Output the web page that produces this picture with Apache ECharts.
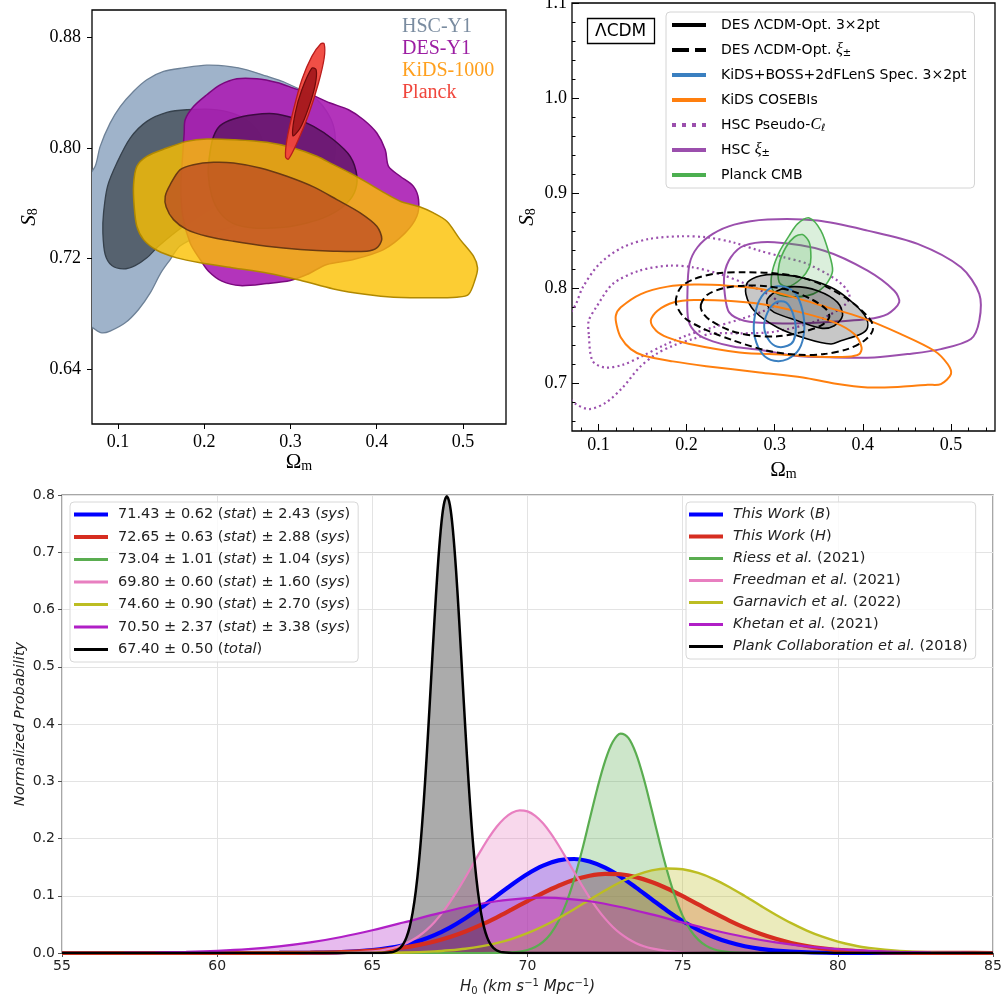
<!DOCTYPE html>
<html><head><meta charset="utf-8">
<script src="https://cdn.jsdelivr.net/npm/echarts@6/dist/echarts.min.js"></script>
<style>html,body{margin:0;padding:0;background:#fff}#c{width:1003px;height:1007px}</style>
</head><body><div id="c"></div>
<script>
// ================= DATA =================
// --- Top-left panel: (Omega_m, S8) contour outlines ---
const tlXTicks = [0.1, 0.2, 0.3, 0.4, 0.5];
const tlYTicks = [0.64, 0.72, 0.80, 0.88];
const hscY1Outer = [[0.0737,0.7867],[0.0795,0.8012],[0.091,0.818],[0.1027,0.830],[0.118,0.841],[0.1336,0.8495],[0.153,0.8555],[0.176,0.858],[0.203,0.860],[0.230,0.859],[0.2495,0.8567],[0.2727,0.852],[0.292,0.848],[0.331,0.835],[0.35,0.816],[0.35,0.79],[0.331,0.772],[0.292,0.758],[0.234,0.743],[0.195,0.736],[0.172,0.729],[0.1607,0.7192],[0.1498,0.7095],[0.1375,0.695],[0.124,0.683],[0.1085,0.6733],[0.091,0.6673],[0.0815,0.666],[0.0737,0.6685],[0.062,0.675],[0.058,0.73],[0.062,0.775]];
const hscY1Inner = [[0.180,0.8277],[0.1568,0.8258],[0.1336,0.8193],[0.1143,0.8072],[0.0988,0.7891],[0.088,0.7722],[0.0834,0.753],[0.0826,0.7385],[0.0853,0.7228],[0.093,0.7148],[0.1066,0.7124],[0.120,0.7148],[0.1336,0.7204],[0.147,0.7288],[0.176,0.7433],[0.2148,0.759],[0.2495,0.7722],[0.267,0.7867],[0.2689,0.8012],[0.2611,0.8133],[0.2418,0.823],[0.2148,0.8277]];
const desY1Outer = [[0.178,0.8205],[0.1877,0.830],[0.2032,0.8386],[0.2186,0.8458],[0.238,0.8502],[0.2611,0.8502],[0.2843,0.8475],[0.3036,0.8434],[0.323,0.839],[0.3461,0.8326],[0.3674,0.8277],[0.3848,0.8205],[0.4002,0.8109],[0.410,0.7988],[0.4138,0.7867],[0.4273,0.7795],[0.4427,0.7722],[0.4486,0.7626],[0.4466,0.7505],[0.4331,0.7385],[0.408,0.7264],[0.3732,0.7192],[0.3423,0.7156],[0.3191,0.7083],[0.300,0.704],[0.2727,0.7018],[0.2418,0.7003],[0.2206,0.7035],[0.2051,0.7107],[0.1954,0.7192],[0.1838,0.7312],[0.1753,0.7505],[0.173,0.7723],[0.1753,0.7964],[0.1769,0.8109]];
const desY1Inner = [[0.2109,0.8084],[0.2186,0.8162],[0.2341,0.821],[0.2573,0.8241],[0.2805,0.8249],[0.3036,0.8217],[0.3268,0.8157],[0.350,0.806],[0.3693,0.794],[0.3771,0.7795],[0.374,0.7674],[0.3616,0.7578],[0.3423,0.7505],[0.3191,0.7457],[0.292,0.7426],[0.2573,0.7421],[0.2341,0.7452],[0.2186,0.753],[0.209,0.765],[0.2047,0.7819],[0.207,0.7976]];
const kids1000Outer = [[0.1182,0.7735],[0.122,0.7867],[0.1336,0.794],[0.1568,0.800],[0.180,0.8048],[0.2032,0.8065],[0.2341,0.806],[0.2727,0.8041],[0.3036,0.800],[0.3307,0.794],[0.350,0.7879],[0.3693,0.7819],[0.3886,0.7751],[0.408,0.7679],[0.4273,0.7614],[0.4505,0.7573],[0.4659,0.753],[0.4814,0.7469],[0.4969,0.7336],[0.5123,0.7216],[0.517,0.7131],[0.5142,0.7047],[0.5065,0.6938],[0.493,0.6919],[0.4659,0.6914],[0.4196,0.6919],[0.3886,0.6938],[0.350,0.6979],[0.3114,0.7042],[0.2727,0.7095],[0.2341,0.7131],[0.1954,0.7168],[0.1684,0.7204],[0.1452,0.7259],[0.1298,0.7336],[0.122,0.7433],[0.1189,0.7578]];
const kids1000Inner = [[0.1549,0.765],[0.1607,0.7735],[0.1723,0.7843],[0.1877,0.7879],[0.2109,0.7896],[0.2341,0.7891],[0.265,0.7855],[0.2959,0.7795],[0.3268,0.7718],[0.3539,0.7626],[0.3809,0.753],[0.4002,0.7433],[0.406,0.7341],[0.4002,0.7276],[0.3886,0.7252],[0.350,0.7252],[0.3114,0.7264],[0.2727,0.7288],[0.2341,0.7324],[0.2032,0.7361],[0.180,0.7409],[0.1645,0.7481],[0.156,0.7573]];
const planckOuter = [[0.2944,0.7935],[0.296,0.806],[0.3036,0.8277],[0.3133,0.8495],[0.3249,0.8664],[0.3353,0.8755],[0.3392,0.8755],[0.3392,0.8652],[0.3326,0.8471],[0.321,0.8241],[0.3075,0.8036],[0.2978,0.792]];
const planckInner = [[0.3029,0.8089],[0.3056,0.8253],[0.3133,0.8422],[0.3249,0.8579],[0.3299,0.8567],[0.3288,0.8458],[0.321,0.829],[0.3114,0.8145]];
const tlLegendNames = ['HSC-Y1', 'DES-Y1', 'KiDS-1000', 'Planck'];

// --- Top-right panel ---
const trXTicks = [0.1, 0.2, 0.3, 0.4, 0.5];
const trXMinor = [0.08,0.12,0.14,0.16,0.18,0.22,0.24,0.26,0.28,0.32,0.34,0.36,0.38,0.42,0.44,0.46,0.48,0.52,0.54];
const trYTicks = [0.7, 0.8, 0.9, 1.0, 1.1];
const trYMinor = [0.66,0.68,0.72,0.74,0.76,0.78,0.82,0.84,0.86,0.88,0.92,0.94,0.96,0.98,1.02,1.04,1.06,1.08];
const des3x2Outer = [[0.2692,0.8063],[0.2843,0.8133],[0.307,0.8144],[0.3373,0.8098],[0.3676,0.7993],[0.3903,0.7835],[0.4035,0.7695],[0.4054,0.7589],[0.3978,0.7519],[0.3751,0.7449],[0.3638,0.7414],[0.3373,0.7467],[0.3032,0.7589],[0.2767,0.7765],[0.2673,0.794]];
const des3x2Inner = [[0.2919,0.7888],[0.3032,0.7975],[0.3221,0.8018],[0.3486,0.7975],[0.3713,0.7853],[0.377,0.7712],[0.3676,0.7607],[0.3524,0.7582],[0.3259,0.766],[0.2994,0.7747],[0.2919,0.7818]];
const desXiOuter = [[0.1878,0.7853],[0.1935,0.8011],[0.2086,0.8098],[0.2351,0.8158],[0.2654,0.8168],[0.2994,0.8158],[0.3297,0.8116],[0.36,0.8011],[0.3903,0.7835],[0.4092,0.766],[0.4111,0.7554],[0.4016,0.7449],[0.3827,0.7361],[0.3562,0.7309],[0.3259,0.7302],[0.2919,0.7344],[0.254,0.7449],[0.22,0.7572],[0.1973,0.7695]];
const desXiInner = [[0.2162,0.7828],[0.2237,0.7933],[0.2427,0.8004],[0.2654,0.8028],[0.2919,0.8021],[0.3184,0.7975],[0.3411,0.7888],[0.3581,0.7782],[0.3619,0.7695],[0.3524,0.7607],[0.3297,0.7537],[0.3032,0.7495],[0.2767,0.7502],[0.2502,0.7554],[0.2275,0.766],[0.2181,0.7747]];
const kidsBossOuter = [[0.2767,0.766],[0.2824,0.787],[0.2956,0.8004],[0.3108,0.8018],[0.324,0.794],[0.3316,0.7765],[0.3335,0.7554],[0.3278,0.7361],[0.3146,0.7256],[0.2994,0.7239],[0.2862,0.7309],[0.2775,0.7484]];
const kidsBossInner = [[0.2881,0.7589],[0.2919,0.7747],[0.3013,0.7853],[0.3127,0.7853],[0.3202,0.7747],[0.324,0.7589],[0.3214,0.7449],[0.3146,0.7396],[0.3032,0.7386],[0.2938,0.7449]];
const cosebisOuter = [[0.1197,0.7712],[0.1254,0.78],[0.1481,0.794],[0.1783,0.8018],[0.2086,0.8039],[0.2465,0.8028],[0.2843,0.7993],[0.3221,0.7905],[0.36,0.78],[0.3978,0.7695],[0.4432,0.7519],[0.4811,0.7344],[0.4962,0.7204],[0.5,0.7098],[0.4886,0.6993],[0.4735,0.6986],[0.4432,0.6965],[0.4054,0.6958],[0.3676,0.7],[0.332,0.7063],[0.2828,0.7116],[0.2222,0.7182],[0.1844,0.7232],[0.1518,0.7291],[0.1367,0.7361],[0.1254,0.7484],[0.1208,0.7607]];
const cosebisInner = [[0.1594,0.766],[0.167,0.7765],[0.1859,0.7853],[0.2086,0.7877],[0.2465,0.787],[0.2843,0.7835],[0.3297,0.7747],[0.3676,0.7642],[0.3903,0.7519],[0.3986,0.7379],[0.3959,0.7309],[0.3827,0.7281],[0.3486,0.7281],[0.3108,0.7302],[0.2601,0.7326],[0.2033,0.7414],[0.1783,0.7484],[0.1655,0.7554]];
const hscClOuter = [[0.062,0.70],[0.064,0.765],[0.0746,0.7836],[0.0822,0.801],[0.1011,0.8257],[0.1276,0.8432],[0.1579,0.852],[0.1919,0.8547],[0.2222,0.8537],[0.2525,0.8484],[0.2828,0.8396],[0.3108,0.8326],[0.3373,0.8256],[0.3713,0.8081],[0.3846,0.794],[0.3808,0.7835],[0.3486,0.766],[0.2994,0.7544],[0.2616,0.7526],[0.2298,0.7526],[0.2071,0.7467],[0.1844,0.7396],[0.1655,0.7309],[0.1465,0.7168],[0.1276,0.6958],[0.1087,0.68],[0.0898,0.673],[0.0746,0.6783],[0.066,0.687]];
const hscClInner = [[0.089,0.7519],[0.089,0.766],[0.0974,0.78],[0.1163,0.8046],[0.1465,0.8186],[0.1806,0.8239],[0.2071,0.8221],[0.2374,0.8151],[0.2676,0.8046],[0.2919,0.794],[0.3032,0.7853],[0.2881,0.7765],[0.2616,0.7677],[0.2298,0.7589],[0.1995,0.7502],[0.173,0.7396],[0.1503,0.7291],[0.1276,0.7196],[0.1068,0.7168],[0.0932,0.7239]];
const hscXiOuter = [[0.2033,0.8256],[0.2124,0.8432],[0.2298,0.8572],[0.254,0.867],[0.2919,0.8723],[0.3486,0.8712],[0.4054,0.8607],[0.4622,0.8467],[0.5114,0.8221],[0.5322,0.794],[0.5322,0.766],[0.5227,0.7467],[0.4886,0.7361],[0.4508,0.7309],[0.413,0.7274],[0.3676,0.7274],[0.3221,0.7291],[0.2828,0.7354],[0.254,0.7386],[0.2298,0.7442],[0.2124,0.7519],[0.2022,0.766],[0.201,0.7953]];
const hscXiInner = [[0.2430,0.8151],[0.2502,0.8326],[0.2654,0.8449],[0.2994,0.8484],[0.3562,0.8396],[0.4054,0.8186],[0.4357,0.7975],[0.4413,0.7853],[0.4281,0.773],[0.4054,0.7677],[0.3524,0.7642],[0.2994,0.7632],[0.2654,0.766],[0.2484,0.7747],[0.2434,0.794]];
const planckCmbOuter = [[0.2964,0.801],[0.2975,0.8186],[0.3051,0.8379],[0.3165,0.8554],[0.3259,0.8677],[0.3392,0.874],[0.3524,0.8607],[0.3619,0.8361],[0.3657,0.8186],[0.36,0.8063],[0.3505,0.7975],[0.3373,0.7923],[0.3184,0.7912],[0.3032,0.794]];
const planckCmbInner = [[0.3051,0.8063],[0.3051,0.8256],[0.3127,0.8432],[0.3221,0.8537],[0.3316,0.8565],[0.3392,0.8484],[0.3411,0.8326],[0.3392,0.8221],[0.3297,0.8098],[0.3146,0.8018]];
const trLegendNames = ['DES ΛCDM-Opt. 3×2pt', 'DES ΛCDM-Opt. ξ±', 'KiDS+BOSS+2dFLenS Spec. 3×2pt', 'KiDS COSEBIs', 'HSC Pseudo-Cℓ', 'HSC ξ±', 'Planck CMB'];

// --- Bottom panel: H0 probability curves [H0, probability] ---
const h0BlueB = [[55,0],[62,0.0001],[63,0.0004],[64,0.0015],[65,0.0050],[65.5,0.0084],[66,0.0135],[66.5,0.0210],[67,0.0312],[67.5,0.0444],[68,0.0607],[68.5,0.0794],[69,0.0996],[69.5,0.1198],[70,0.1381],[70.5,0.1526],[71,0.1617],[71.5,0.1642],[72,0.1598],[72.5,0.1490],[73,0.1333],[73.5,0.1142],[74,0.0939],[74.5,0.0739],[75,0.0558],[75.5,0.0404],[76,0.0280],[76.5,0.0186],[77,0.0119],[77.5,0.0073],[78,0.0042],[79,0.0013],[80,0.0003],[81,0.0001],[85,0]];
const h0RedH = [[55,0],[62,0.0001],[63,0.0005],[64,0.0015],[65,0.0041],[65.5,0.0064],[66,0.0096],[66.5,0.0142],[67,0.0202],[67.5,0.0280],[68,0.0376],[68.5,0.0490],[69,0.0620],[69.5,0.0762],[70,0.0907],[70.5,0.1048],[71,0.1175],[71.5,0.1279],[72,0.1350],[72.5,0.1383],[73,0.1375],[73.5,0.1326],[74,0.1241],[74.5,0.1127],[75,0.0993],[75.5,0.0849],[76,0.0704],[76.5,0.0567],[77,0.0443],[77.5,0.0335],[78,0.0247],[78.5,0.0176],[79,0.0122],[79.5,0.0082],[80,0.0053],[81,0.0021],[82,0.0007],[83,0.0002],[84,0.0001],[85,0]];
const h0Riess = [[55,0],[68.5,0],[69,0.0002],[69.5,0.0012],[69.75,0.0026],[70,0.0053],[70.25,0.0105],[70.5,0.0194],[70.75,0.0340],[71,0.0560],[71.25,0.0872],[71.5,0.1281],[71.75,0.1777],[72,0.2327],[72.25,0.2875],[72.5,0.3352],[72.75,0.3690],[73,0.3833],[73.25,0.3759],[73.5,0.3479],[73.75,0.3039],[74,0.2505],[74.25,0.1950],[74.5,0.1432],[74.75,0.0993],[75,0.0649],[75.25,0.0401],[75.5,0.0234],[75.75,0.0129],[76,0.0067],[76.25,0.0033],[76.5,0.0015],[77,0.0003],[77.5,0],[85,0]];
const h0Freedman = [[55,0],[63.5,0],[64,0.0003],[64.5,0.0010],[65,0.0028],[65.25,0.0044],[65.5,0.0067],[65.75,0.0101],[66,0.0149],[66.25,0.0213],[66.5,0.0297],[66.75,0.0405],[67,0.0539],[67.25,0.0700],[67.5,0.0887],[67.75,0.1097],[68,0.1324],[68.25,0.1559],[68.5,0.1792],[68.75,0.2010],[69,0.2200],[69.25,0.2350],[69.5,0.2450],[69.75,0.2492],[70,0.2474],[70.25,0.2396],[70.5,0.2266],[70.75,0.2090],[71,0.1882],[71.25,0.1653],[71.5,0.1418],[71.75,0.1186],[72,0.0969],[72.25,0.0772],[72.5,0.0600],[72.75,0.0455],[73,0.0337],[73.25,0.0244],[73.5,0.0172],[73.75,0.0118],[74,0.0080],[74.5,0.0033],[75,0.0013],[75.5,0.0004],[76,0],[85,0]];
const h0Garnavich = [[55,0],[63,0],[64,0.0001],[65,0.0003],[66,0.0009],[67,0.0028],[67.5,0.0047],[68,0.0074],[68.5,0.0115],[69,0.0172],[69.5,0.0248],[70,0.0346],[70.5,0.0467],[71,0.0608],[71.5,0.0765],[72,0.0930],[72.5,0.1092],[73,0.1240],[73.5,0.1360],[74,0.1442],[74.5,0.1477],[75,0.1462],[75.5,0.1398],[76,0.1292],[76.5,0.1154],[77,0.0996],[77.5,0.0830],[78,0.0669],[78.5,0.0521],[79,0.0392],[79.5,0.0285],[80,0.0200],[80.5,0.0136],[81,0.0089],[82,0.0035],[83,0.0012],[84,0.0003],[85,0.0001]];
const h0Khetan = [[55,0.0001],[56,0.0002],[57,0.0005],[58,0.0010],[59,0.0020],[60,0.0038],[61,0.0068],[62,0.0116],[63,0.0185],[64,0.0280],[65,0.0398],[66,0.0533],[67,0.0674],[68,0.0804],[69,0.0904],[70,0.0959],[70.5,0.0966],[71,0.0959],[72,0.0904],[73,0.0804],[74,0.0674],[75,0.0533],[76,0.0398],[77,0.0280],[78,0.0185],[79,0.0116],[80,0.0068],[81,0.0038],[82,0.0020],[83,0.0010],[84,0.0005],[85,0.0002]];
const h0Planck = [[55,0],[65.2,0],[65.4,0.0003],[65.6,0.0012],[65.7,0.0025],[65.8,0.0048],[65.9,0.0089],[66,0.0158],[66.1,0.0272],[66.2,0.0448],[66.3,0.0709],[66.4,0.1080],[66.5,0.1579],[66.6,0.2218],[66.7,0.2995],[66.8,0.3884],[66.9,0.4839],[67,0.5794],[67.1,0.6665],[67.2,0.7365],[67.3,0.7821],[67.4,0.7979],[67.5,0.7821],[67.6,0.7365],[67.7,0.6665],[67.8,0.5794],[67.9,0.4839],[68,0.3884],[68.1,0.2995],[68.2,0.2218],[68.3,0.1579],[68.4,0.1080],[68.5,0.0709],[68.6,0.0448],[68.7,0.0272],[68.8,0.0158],[68.9,0.0089],[69,0.0048],[69.1,0.0025],[69.2,0.0012],[69.4,0.0003],[69.6,0],[85,0]];
const refNames = ['This Work (B)', 'This Work (H)', 'Riess et al. (2021)', 'Freedman et al. (2021)', 'Garnavich et al. (2022)', 'Khetan et al. (2021)', 'Plank Collaboration et al. (2018)'];
const valueNames = ['71.43 ± 0.62 (stat) ± 2.43 (sys)', '72.65 ± 0.63 (stat) ± 2.88 (sys)', '73.04 ± 1.01 (stat) ± 1.04 (sys)', '69.80 ± 0.60 (stat) ± 1.60 (sys)', '74.60 ± 0.90 (stat) ± 2.70 (sys)', '70.50 ± 2.37 (stat) ± 3.38 (sys)', '67.40 ± 0.50 (total)'];

// ================= STYLE / BUILD =================
const SERIF = "'Liberation Serif','DejaVu Serif',serif";
const SANS = "'DejaVu Sans',sans-serif";

function contour(name, pts, ax, fill, stroke, lw, dash) {
  return {
    type: 'custom', name: name, coordinateSystem: 'cartesian2d',
    xAxisIndex: ax, yAxisIndex: ax, clip: true, silent: true,
    data: [pts[0]],
    renderItem: function (params, api) {
      const points = pts.map(function (p) { return api.coord(p); });
      return { type: 'polygon', shape: { points: points, smooth: 0.3 },
        style: { fill: fill || 'none', stroke: stroke, lineWidth: lw, lineDash: dash || null } };
    }
  };
}

const series = [];
// top-left
series.push(contour('HSC-Y1', hscY1Outer, 0, '#9fb3ca', '#6d8197', 1.3));
series.push(contour('HSC-Y1', hscY1Inner, 0, '#56626f', '#36414c', 1.3));
series.push(contour('DES-Y1', desY1Outer, 0, 'rgba(171,30,180,0.9)', '#7a087e', 1.5));
series.push(contour('DES-Y1', desY1Inner, 0, 'rgba(100,24,106,0.85)', '#3c0a40', 1.5));
series.push(contour('KiDS-1000', kids1000Outer, 0, 'rgba(251,192,0,0.8)', '#b08800', 1.5));
series.push(contour('KiDS-1000', kids1000Inner, 0, 'rgba(185,70,35,0.7)', '#6b3a12', 1.5));
series.push(contour('Planck', planckOuter, 0, 'rgba(240,70,60,0.95)', '#b81c1c', 1.3));
series.push(contour('Planck', planckInner, 0, 'rgba(165,25,30,0.95)', '#6e0a0a', 1.2));
// top-right
const PURPLE = '#9b4fad', ORANGE = '#ff7f0e', BLUE = '#3a7fc0', GREEN = '#4caf50';
series.push(contour('c1', hscClOuter, 1, null, PURPLE, 2.2, [2, 3.2]));
series.push(contour('c2', hscClInner, 1, null, PURPLE, 2.2, [2, 3.2]));
series.push(contour('c3', hscXiOuter, 1, null, PURPLE, 2));
series.push(contour('c4', hscXiInner, 1, null, PURPLE, 2));
series.push(contour('c5', planckCmbOuter, 1, 'rgba(76,175,80,0.2)', GREEN, 1.6));
series.push(contour('c6', planckCmbInner, 1, 'rgba(76,175,80,0.2)', GREEN, 1.6));
series.push(contour('c7', des3x2Outer, 1, 'rgba(0,0,0,0.22)', '#000', 1.6));
series.push(contour('c8', des3x2Inner, 1, 'rgba(0,0,0,0.2)', '#000', 1.6));
series.push(contour('c9', cosebisOuter, 1, null, ORANGE, 2));
series.push(contour('c10', cosebisInner, 1, null, ORANGE, 2));
series.push(contour('c11', kidsBossOuter, 1, null, BLUE, 2));
series.push(contour('c12', kidsBossInner, 1, null, BLUE, 2));
series.push(contour('c13', desXiOuter, 1, null, '#000', 2, [7, 4]));
series.push(contour('c14', desXiInner, 1, null, '#000', 2, [7, 4]));
// top-right legend proxies
const trColors = ['#000', '#000', BLUE, ORANGE, PURPLE, PURPLE, GREEN];
trLegendNames.forEach(function (n, i) {
  series.push({ type: 'line', name: n, xAxisIndex: 1, yAxisIndex: 1, data: [], symbol: 'none',
    color: trColors[i], itemStyle: { color: trColors[i] }, lineStyle: { color: trColors[i], width: 4 } });
});
const trIcons = ['path://M0,0H34V4H0Z', 'path://M0,0H17V4H0ZM23,0H34V4H23Z', 'path://M0,0H34V4H0Z', 'path://M0,0H34V4H0Z',
  'path://M0,0H4V4H0ZM10,0H14V4H10ZM20,0H24V4H20ZM30,0H34V4H30Z', 'path://M0,0H34V4H0Z', 'path://M0,0H34V4H0Z'];

// bottom
const h0Data = [h0BlueB, h0RedH, h0Riess, h0Freedman, h0Garnavich, h0Khetan, h0Planck];
const h0Colors = ['#0000ff', '#d62d20', '#5aad50', '#e87fc0', '#bcbd22', '#b01fc6', '#000000'];
const h0Widths = [4.2, 4.2, 2.2, 2.2, 2.4, 2.2, 2.5];
const h0FillOp = [0.28, 0.28, 0.3, 0.3, 0.3, 0.3, 0.33];
h0Data.forEach(function (d, i) {
  series.push({ type: 'line', name: refNames[i], xAxisIndex: 3, yAxisIndex: 3, data: d, smooth: 0.35,
    symbol: 'none', silent: true, color: h0Colors[i], itemStyle: { color: h0Colors[i] },
    lineStyle: { color: h0Colors[i], width: h0Widths[i] },
    areaStyle: { color: h0Colors[i], opacity: h0FillOp[i] } });
});
valueNames.forEach(function (n, i) {
  series.push({ type: 'line', name: n, xAxisIndex: 3, yAxisIndex: 3, data: [], symbol: 'none',
    color: h0Colors[i], itemStyle: { color: h0Colors[i] }, lineStyle: { color: h0Colors[i], width: h0Widths[i] } });
});
const THICK = 'path://M0,0H0.01V0.01H0ZM0,4.9H34V9.1H0ZM33.99,13.99H34V14H33.99Z';
const THIN = 'path://M0,0H0.01V0.01H0ZM0,5.6H34V8.4H0ZM33.99,13.99H34V14H33.99Z';
const h0Icons = [THICK, THICK, THIN, THIN, THIN, THIN, THIN];

const subRich = {
  a: { fontFamily: SERIF, fontSize: 21, lineHeight: 22, color: '#000' },
  ai: { fontFamily: SERIF, fontSize: 21, fontStyle: 'italic', lineHeight: 22, color: '#000' },
  b: { fontFamily: SERIF, fontSize: 14, lineHeight: 10, verticalAlign: 'bottom', color: '#000' }
};

function commonAxis(extra) {
  return Object.assign({ type: 'value', axisLine: { show: false, onZero: false }, splitLine: { show: false }, nameMoveOverlap: false }, extra);
}

const option = {
  animation: false,
  backgroundColor: '#ffffff',
  title: { text: 'ΛCDM', left: 587, top: 18, padding: [5, 8, 4, 8], borderColor: '#000', borderWidth: 1.3,
    textStyle: { fontFamily: SANS, fontSize: 17, fontWeight: 'normal', color: '#000' } },
  grid: [
    { left: 92, top: 10, width: 414, height: 414, show: true, borderColor: '#000', borderWidth: 1.3, backgroundColor: 'transparent', outerBoundsMode: 'none' },
    { left: 572, top: 3, width: 423, height: 428, show: true, borderColor: '#000', borderWidth: 1.3, backgroundColor: 'transparent', outerBoundsMode: 'none' },
    { left: 62, top: 495, width: 931, height: 458, show: true, borderColor: '#8a8a8a', borderWidth: 1.5, backgroundColor: 'transparent', outerBoundsMode: 'none' }
  ],
  xAxis: [
    commonAxis({ gridIndex: 0, min: 0.07, max: 0.55,
      axisTick: { customValues: tlXTicks, length: 5, lineStyle: { color: '#000' } },
      axisLabel: { customValues: tlXTicks, formatter: function (v) { return v.toFixed(1); }, fontFamily: SERIF, fontSize: 18, color: '#000', margin: 9 },
      name: '{a|Ω}{b|m}', nameLocation: 'middle', nameGap: 27, nameTextStyle: { rich: subRich } }),
    commonAxis({ gridIndex: 1, min: 0.07, max: 0.55,
      axisTick: { customValues: trXTicks, inside: true, length: 7, lineStyle: { color: '#000' } },
      axisLabel: { customValues: trXTicks, formatter: function (v) { return v.toFixed(1); }, fontFamily: SERIF, fontSize: 18, color: '#000', margin: 5 },
      name: '{a|Ω}{b|m}', nameLocation: 'middle', nameGap: 28, nameTextStyle: { rich: subRich } }),
    commonAxis({ gridIndex: 1, min: 0.07, max: 0.55, position: 'top', offset: -428,
      axisTick: { customValues: trXMinor, inside: false, length: 3.5, lineStyle: { color: '#000' } },
      axisLabel: { show: false } }),
    commonAxis({ gridIndex: 2, min: 55, max: 85, interval: 5,
      splitLine: { show: true, lineStyle: { color: '#e3e3e3', width: 1 } },
      axisTick: { length: 4, lineStyle: { color: '#555' } },
      axisLabel: { fontFamily: SANS, fontSize: 14, color: '#222', margin: 6 },
      name: '{i|H}{sb|0}{i| (km s}{sp|−1}{i| Mpc}{sp|−1}{i|)}', nameLocation: 'middle', nameGap: 25,
      nameTextStyle: { rich: {
        i: { fontFamily: SANS, fontStyle: 'italic', fontSize: 15, lineHeight: 18, color: '#222' },
        sb: { fontFamily: SANS, fontSize: 10, lineHeight: 9, verticalAlign: 'bottom', color: '#222' },
        sp: { fontFamily: SANS, fontSize: 10, lineHeight: 9, verticalAlign: 'top', color: '#222' } } } })
  ],
  yAxis: [
    commonAxis({ gridIndex: 0, min: 0.60, max: 0.90,
      axisTick: { customValues: tlYTicks, length: 5, lineStyle: { color: '#000' } },
      axisLabel: { customValues: tlYTicks, formatter: function (v) { return v.toFixed(2); }, fontFamily: SERIF, fontSize: 18, color: '#000', margin: 11 },
      name: '{ai|S}{b|8}', nameLocation: 'middle', nameGap: 52, nameTextStyle: { rich: subRich } }),
    commonAxis({ gridIndex: 1, min: 0.65, max: 1.1,
      axisTick: { customValues: trYTicks, inside: true, length: 7, lineStyle: { color: '#000' } },
      axisLabel: { customValues: trYTicks, formatter: function (v) { return v.toFixed(1); }, fontFamily: SERIF, fontSize: 18, color: '#000', margin: 5 },
      name: '{ai|S}{b|8}', nameLocation: 'middle', nameGap: 34, nameTextStyle: { rich: subRich } }),
    commonAxis({ gridIndex: 1, min: 0.65, max: 1.1, position: 'right', offset: -423,
      axisTick: { customValues: trYMinor, inside: false, length: 3.5, lineStyle: { color: '#000' } },
      axisLabel: { show: false } }),
    commonAxis({ gridIndex: 2, min: 0, max: 0.8, interval: 0.1,
      splitLine: { show: true, lineStyle: { color: '#e3e3e3', width: 1 } },
      axisTick: { length: 4, lineStyle: { color: '#555' } },
      axisLabel: { fontFamily: SANS, fontSize: 14, color: '#222', margin: 7, formatter: function (v) { return v.toFixed(1); } },
      name: 'Normalized Probability', nameLocation: 'middle', nameGap: 34,
      nameTextStyle: { fontFamily: SANS, fontStyle: 'italic', fontSize: 14.5, color: '#222' } })
  ],
  legend: [
    { data: tlLegendNames.map(function (n, i) { return { name: n, textStyle: { color: ['#7a8ca0', '#9c1ea3', '#ffa01e', '#f0463c'][i] } }; }),
      left: 397, top: 16, orient: 'vertical', icon: 'none', itemWidth: 0, itemHeight: 0, itemGap: 0, padding: 0,
      selectedMode: false, itemStyle: { borderWidth: 0 },
      textStyle: { fontFamily: SERIF, fontSize: 20, lineHeight: 22 } },
    { data: trLegendNames.map(function (n, i) { return { name: n, icon: trIcons[i] }; }),
      left: 666, top: 12, orient: 'vertical', itemWidth: 34, itemHeight: 4, itemGap: 9, padding: [5, 8, 5, 6],
      backgroundColor: 'rgba(255,255,255,0.85)', borderColor: '#d4d4d4', borderWidth: 1, borderRadius: 4,
      selectedMode: false, itemStyle: { borderWidth: 0 },
      formatter: function (n) { return n.replace('ξ±', '{x|ξ}{s|±}').replace('Cℓ', '{x|C}{s|ℓ}'); },
      textStyle: { fontFamily: SANS, fontSize: 14, lineHeight: 16, color: '#000', padding: [0, 0, 0, 10],
        rich: { x: { fontFamily: SERIF, fontStyle: 'italic', fontSize: 16, lineHeight: 16, color: '#000' },
                s: { fontFamily: SANS, fontSize: 10, lineHeight: 8, verticalAlign: 'bottom', color: '#000' } } } },
    { data: valueNames.map(function (n, i) { return { name: n, icon: h0Icons[i] }; }),
      left: 70, top: 502, orient: 'vertical', itemWidth: 34, itemHeight: 14, itemGap: 7.5, padding: [5, 8, 5, 4],
      backgroundColor: 'rgba(255,255,255,0.8)', borderColor: '#d8d8d8', borderWidth: 1, borderRadius: 4,
      selectedMode: false, itemStyle: { borderWidth: 0 },
      formatter: function (n) { return n.replace(/\((stat|sys|total)\)/g, '({i|$1})'); },
      textStyle: { fontFamily: SANS, fontSize: 14.5, lineHeight: 15, color: '#222', padding: [0, 0, 0, 5],
        rich: { i: { fontFamily: SANS, fontStyle: 'italic', fontSize: 14.5, lineHeight: 15, color: '#222' } } } },
    { data: refNames.map(function (n, i) { return { name: n, icon: h0Icons[i] }; }),
      left: 686, top: 502, orient: 'vertical', itemWidth: 34, itemHeight: 14, itemGap: 7, padding: [5, 8, 5, 3],
      backgroundColor: 'rgba(255,255,255,0.8)', borderColor: '#d8d8d8', borderWidth: 1, borderRadius: 4,
      selectedMode: false, itemStyle: { borderWidth: 0 },
      formatter: function (n) {
        let m = n.match(/^(.*) \((\d{4})\)$/);
        if (m) return '{i|' + m[1] + '} (' + m[2] + ')';
        m = n.match(/^(.*) \((\w)\)$/);
        if (m) return '{i|' + m[1] + '} ({i|' + m[2] + '})';
        return n;
      },
      textStyle: { fontFamily: SANS, fontSize: 14.5, lineHeight: 15, color: '#222', padding: [0, 0, 0, 5],
        rich: { i: { fontFamily: SANS, fontStyle: 'italic', fontSize: 14.5, lineHeight: 15, color: '#222' } } } }
  ],
  series: series
};

const chart = echarts.init(document.getElementById('c'), null, { renderer: 'canvas' });
chart.setOption(option);
</script>
</body></html>
